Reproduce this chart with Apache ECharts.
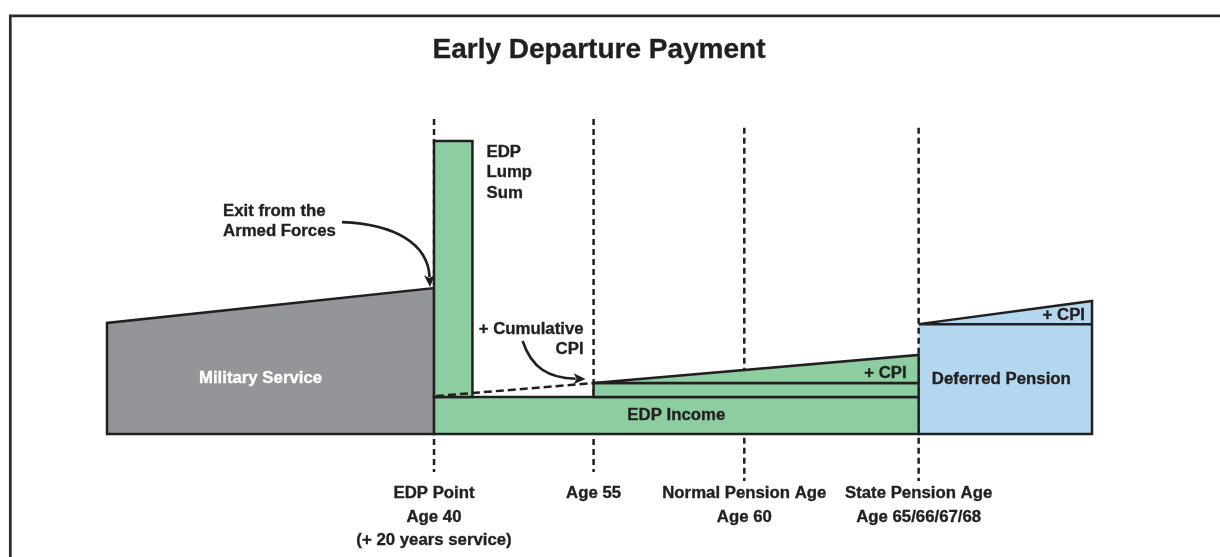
<!DOCTYPE html>
<html><head><meta charset="utf-8">
<script src="https://cdn.jsdelivr.net/npm/echarts@6/dist/echarts.min.js"></script>
<style>html,body{margin:0;padding:0;background:#fff}#c{width:1220px;height:557px}</style>
</head><body><div id="c"></div>
<script>
// ---------- data (x: schematic timeline units, y: relative payment level) ----------
const milestoneLabels = ['EDP Point\nAge 40\n(+ 20 years service)', 'Age 55', 'Normal Pension Age\nAge 60', 'State Pension Age\nAge 65/66/67/68'];
const milestoneX = [33.2, 49.4, 64.7, 82.4];
const serviceStartX = 0;
const lumpSumEndX = 37.1;
const deferredEndX = 100;
const militaryY = [37.9, 49.8];   // level at start / end of service
const lumpSumY = 100;
const edpIncomeY = 12.6;
const edpCpiY = [17.4, 27.0];     // cumulative CPI uplift at age 55 / growth to SPA
const deferredY = [37.5, 45.4];   // deferred pension / + CPI
const blockLabels = ['Military Service', 'EDP\nLump\nSum', 'EDP Income', '+ CPI', 'Deferred Pension', '+ CPI'];
const noteLabels = ['Exit from the\nArmed Forces', '+ Cumulative\nCPI'];
const titleText = 'Early Departure Payment';

// ---------- styles ----------
const INK = '#231f20', GRAY = '#939598', GREEN = '#8dcea1', BLUE = '#b3d7ef';
const FAMILY = '"Liberation Sans", Arial, sans-serif';
const FONT = 'bold 16.8px ' + FAMILY;
const LW = 2.5;

const [edpX, age55X, npaX, spaX] = milestoneX;

const mainShapes = [
  { pts: [[serviceStartX, 0], [serviceStartX, militaryY[0]], [edpX, militaryY[1]], [edpX, 0]], fill: GRAY },
  { pts: [[edpX, 0], [edpX, edpIncomeY], [spaX, edpIncomeY], [spaX, 0]], fill: GREEN },
  { pts: [[edpX, edpIncomeY], [edpX, lumpSumY], [lumpSumEndX, lumpSumY], [lumpSumEndX, edpIncomeY]], fill: GREEN },
  { pts: [[age55X, edpIncomeY], [age55X, edpCpiY[0]], [spaX, edpCpiY[0]], [spaX, edpIncomeY]], fill: GREEN },
  { pts: [[age55X, edpCpiY[0]], [spaX, edpCpiY[1]], [spaX, edpCpiY[0]]], fill: GREEN }
];

const chart = echarts.init(document.getElementById('c'), null, { renderer: 'canvas' });

function polyItem(api, pts, fill) {
  return { type: 'polygon', shape: { points: pts.map(p => api.coord(p)) },
    style: { fill: fill, stroke: INK, lineWidth: LW, lineJoin: 'miter' } };
}

const guideExt = [[107.5, -13], [107.5, -13], [104.5, -16], [104.5, -16]];

chart.setOption({
  animation: false,
  grid: { left: 107, right: 128, top: 141, bottom: 123 },
  xAxis: { type: 'value', min: 0, max: 100, show: false },
  yAxis: { type: 'value', min: 0, max: 100, show: false },
  series: [
    { // deferred pension (below guides so the SPA guide shows as its dashed edge)
      type: 'custom', z: 1, data: [[spaX, deferredY[0]]],
      renderItem: (params, api) => ({
        type: 'group', children: [
          { type: 'polygon', shape: { points: [[spaX, 0], [spaX, deferredY[0]], [deferredEndX, deferredY[1]], [deferredEndX, 0]].map(p => api.coord(p)) },
            style: { fill: BLUE } },
          { type: 'polyline', shape: { points: [[spaX, deferredY[0]], [deferredEndX, deferredY[1]], [deferredEndX, 0], [spaX, 0]].map(p => api.coord(p)) },
            style: { fill: null, stroke: INK, lineWidth: LW } },
          { type: 'polyline', shape: { points: [[spaX, deferredY[0]], [deferredEndX, deferredY[0]]].map(p => api.coord(p)) },
            style: { fill: null, stroke: INK, lineWidth: LW } }
        ] })
    },
    { // milestone guides
      type: 'custom', z: 2, data: milestoneX.map(x => [x]),
      renderItem: (params, api) => {
        const x = api.value(0), e = guideExt[params.dataIndex];
        const a = api.coord([x, e[0]]), b = api.coord([x, e[1]]);
        return { type: 'line', shape: { x1: a[0], y1: a[1], x2: b[0], y2: b[1] },
          style: { stroke: INK, lineWidth: LW, lineDash: [6, 4] } };
      }
    },
    { // main blocks
      type: 'custom', z: 3, data: mainShapes.map((s, i) => [i]),
      renderItem: (params, api) => { const s = mainShapes[params.dataIndex]; return polyItem(api, s.pts, s.fill); }
    },
    { // cumulative CPI projection line
      type: 'custom', z: 4, data: [[edpX, edpIncomeY]],
      renderItem: (params, api) => {
        const a = api.coord([edpX, edpIncomeY]), b = api.coord([age55X, edpCpiY[0]]);
        return { type: 'line', shape: { x1: a[0] + 2, y1: a[1] - 1, x2: b[0], y2: b[1] },
          style: { stroke: INK, lineWidth: LW, lineDash: [8, 4] } };
      }
    }
  ]
});

// ---------- annotations anchored on data coordinates ----------
const P = (x, y) => chart.convertToPixel({ gridIndex: 0 }, [x, y]);
function txt(x, y, text, align, vAlign, lh, fill, font) {
  const f = fill || INK;
  return { type: 'text', x: x, y: y, z: 10,
    style: { text: text, font: font || FONT, fill: f, align: align, textAlign: align,
      verticalAlign: vAlign, textVerticalAlign: vAlign, lineHeight: lh || 20.5,
      stroke: f, lineWidth: 0.35 } };
}
function arrow(p0, c1, c2, tip) {
  const dx = tip[0] - c2[0], dy = tip[1] - c2[1], L = Math.hypot(dx, dy);
  const ux = dx / L, uy = dy / L, len = 12, hw = 5.5;
  const base = [tip[0] - ux * len, tip[1] - uy * len];
  return [
    { type: 'bezierCurve', z: 10, shape: { x1: p0[0], y1: p0[1], cpx1: c1[0], cpy1: c1[1], cpx2: c2[0], cpy2: c2[1], x2: base[0] + ux * 2, y2: base[1] + uy * 2 },
      style: { stroke: INK, lineWidth: 2.6, fill: null } },
    { type: 'polygon', z: 10, shape: { points: [tip, [base[0] - uy * hw, base[1] + ux * hw], [base[0] + ux * 3, base[1] + uy * 3], [base[0] + uy * hw, base[1] - ux * hw]] },
      style: { fill: INK } }
  ];
}

const g = [];
g.push({ type: 'rect', z: 20, shape: { x: 10.3, y: 15.8, width: 1400, height: 800 }, style: { fill: null, stroke: '#2b2b2b', lineWidth: 2.7 } });

// title (centred over the diagram)
const tl = P((serviceStartX + deferredEndX) / 2, lumpSumY);
g.push(txt(tl[0] - 0.5, 50, titleText, 'center', 'middle', 30, INK, 'bold 28px ' + FAMILY));

// milestone labels
milestoneX.forEach((x, i) => {
  const p = P(x, 0);
  g.push(txt(p[0], p[1] + 48, milestoneLabels[i], 'center', 'top', 23.5));
});
// block labels
const mil = P((serviceStartX + edpX) / 2, edpIncomeY * 1.5);
g.push(txt(mil[0] - 10, mil[1], blockLabels[0], 'center', 'middle', 20, '#ffffff'));
const ls = P(lumpSumEndX, lumpSumY);
g.push(txt(ls[0] + 14, ls[1] + 1, blockLabels[1], 'left', 'top', 20.5));
const inc = P((edpX + spaX) / 2, edpIncomeY / 2);
g.push(txt(inc[0], inc[1], blockLabels[2], 'center', 'middle'));
const c1 = P(spaX, edpCpiY[0]);
g.push(txt(c1[0] - 12, c1[1] - 10, blockLabels[3], 'right', 'middle'));
const dp = P((spaX + deferredEndX) / 2, deferredY[0] / 2);
g.push(txt(dp[0] - 4, dp[1], blockLabels[4], 'center', 'middle'));
const c2 = P(deferredEndX, deferredY[0]);
g.push(txt(c2[0] - 7, c2[1] - 9, blockLabels[5], 'right', 'middle'));

// notes + arrows
const exitPt = P(edpX, militaryY[1]);
g.push(txt(exitPt[0] - 211, exitPt[1] - 87, noteLabels[0], 'left', 'top', 20));
const t1 = [exitPt[0] - 4, exitPt[1] - 1];
g.push(...arrow([exitPt[0] - 92, exitPt[1] - 66], [exitPt[0] - 40, exitPt[1] - 64], [exitPt[0] - 6, exitPt[1] - 45], t1));
const cpiPt = P(age55X, edpCpiY[0]);
g.push(txt(cpiPt[0] - 10, cpiPt[1] - 64, noteLabels[1], 'right', 'top', 20));
const t2 = [cpiPt[0] - 8, cpiPt[1] - 4];
g.push(...arrow([cpiPt[0] - 71, cpiPt[1] - 42], [cpiPt[0] - 62, cpiPt[1] - 15], [cpiPt[0] - 45, cpiPt[1] - 5], t2));

chart.setOption({ graphic: g });
</script></body></html>
